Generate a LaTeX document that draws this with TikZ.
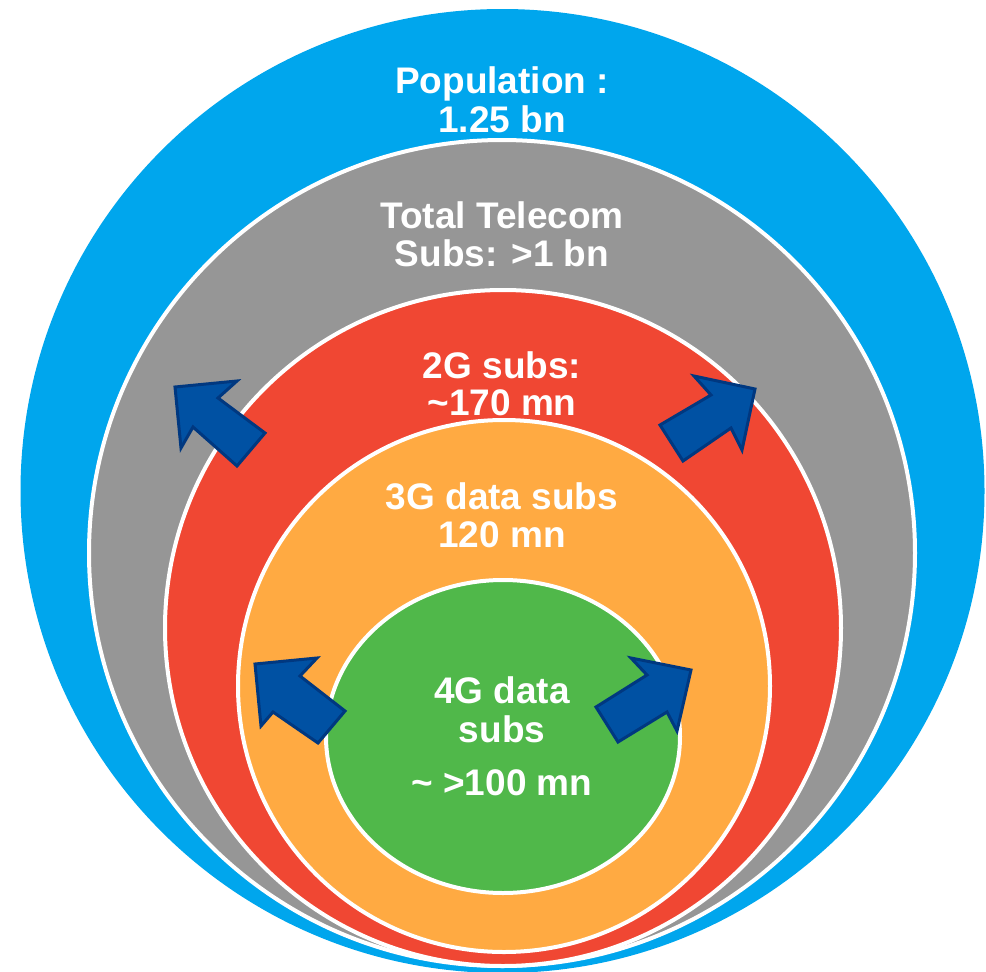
\documentclass[tikz,border=0pt]{standalone}
\usepackage{fontspec}
\setmainfont{Liberation Sans}
\definecolor{popblue}{RGB}{0,166,237}
\definecolor{telgray}{RGB}{150,150,150}
\definecolor{twored}{RGB}{240,71,51}
\definecolor{threeorange}{RGB}{255,170,66}
\definecolor{fourgreen}{RGB}{80,184,74}
\definecolor{arrowfill}{RGB}{0,81,163}
\definecolor{arrowedge}{RGB}{0,56,128}
\begin{document}
\begin{tikzpicture}[x=1pt,y=-1pt,
  ring/.style={draw=white,line width=4pt},
  lbl/.style={text=white,font=\fontsize{37}{39}\selectfont\bfseries,anchor=base,inner sep=0pt},
  blockarrow/.style={fill=arrowfill,draw=arrowedge,line width=3pt,line join=miter}]
\useasboundingbox (0,0) rectangle (986,972);

% nested market rings
\fill[popblue] (502.5,491) circle[radius=482];
\filldraw[ring,fill=telgray] (502,553) circle[radius=413];
\filldraw[ring,fill=twored] (503,628) circle[radius=338];
\filldraw[ring,fill=threeorange] (504,686) circle[radius=266];
\filldraw[ring,fill=fourgreen] (503,736.5) ellipse[x radius=177,y radius=156.5];

% growth arrows
\draw[blockarrow] (175,387) -- (237,381) -- (218,398) -- (265,433) -- (237,466) -- (193,427) -- (181,448) -- cycle;
\draw[blockarrow] (755,389) -- (694,376) -- (711,395) -- (660,425) -- (683,461) -- (731,428) -- (742,450) -- cycle;
\draw[blockarrow] (255,664) -- (317,658) -- (300,676) -- (345,711) -- (318,743) -- (273,712) -- (261,726) -- cycle;
\draw[blockarrow] (691,670) -- (631,658) -- (647,675) -- (596,707) -- (618,742) -- (667,712) -- (677,731) -- cycle;

% labels
\node[lbl] (pop1) at (502,93) {Population :};
\node[lbl] (pop2) at (502,132) {1.25 bn};
\node[lbl] (tel1) at (502,228) {Total Telecom};
\node[lbl] (tel2) at (502,266) {Subs: >1 bn};
\node[lbl] (two1) at (502,378) {2G subs:};
\node[lbl] (two2) at (502,415) {\textasciitilde170 mn};
\node[lbl] (three1) at (502,509) {3G data subs};
\node[lbl] (three2) at (502,547) {120 mn};
\node[lbl] (four1) at (502,703) {4G data};
\node[lbl] (four2) at (502,742) {subs};
\node[lbl] (four3) at (502,795) {\textasciitilde{} >100 mn};
\end{tikzpicture}
\end{document}
